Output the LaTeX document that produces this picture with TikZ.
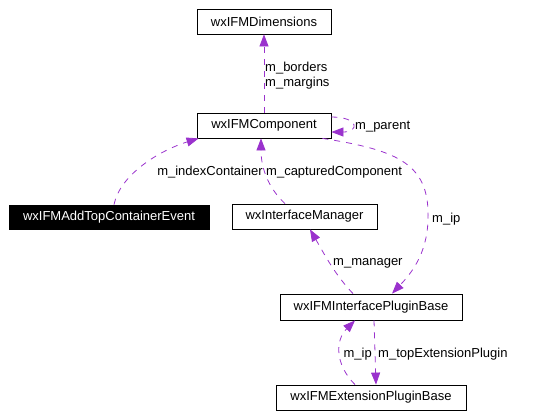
\documentclass[tikz,border=0pt]{standalone}
\usepackage{fontspec}
\setmainfont{Liberation Sans}
\usetikzlibrary{arrows.meta, positioning}
\definecolor{usageEdge}{RGB}{154,50,205}
\tikzset{%
  >={Triangle[width=9bp,length=12bp]},
  % Specifications for style of nodes:
    base/.style = {rectangle, draw=black, line width=0.8bp, inner sep=0pt, minimum height=25bp,
                   text centered, font=\fontsize{13bp}{15bp}\selectfont},
    classBox/.style = {base, fill=white},
    focusClass/.style = {base, fill=black, text=white},
    memberLabel/.style = {inner sep=0pt, font=\fontsize{13bp}{15bp}\selectfont, align=left},
    usage/.style = {->, draw=usageEdge, line width=0.8bp, dash pattern=on 6bp off 6bp},
}
\begin{document}
\begin{tikzpicture}[x=1bp, y=-1bp]
  \useasboundingbox (0,0) rectangle (542,418);
  \node (dimensions)    [classBox, minimum width=134bp] at (264,21.5) {wxIFMDimensions};
  \node (component)     [classBox, minimum width=134bp] at (264,125.5) {wxIFMComponent};
  \node (addTopEvent)   [focusClass, minimum width=200bp, minimum height=24bp] at (109,217)
                                                                {wxIFMAddTopContainerEvent};
  \node (ifManager)     [classBox, minimum width=145bp] at (304.5,216.5) {wxInterfaceManager};
  \node (pluginBase)    [classBox, minimum width=182bp, minimum height=26bp] at (371,307)
                                                                {wxIFMInterfacePluginBase};
  \node (extPluginBase) [classBox, minimum width=190bp] at (371,397.5)
                                                                {wxIFMExtensionPluginBase};

  \coordinate (ipBend) at (428,220);

  % Specification of lines between nodes
  \draw[usage]   (component) -- (dimensions);
  \draw[usage]   ([yshift=8.5bp]component.east) .. controls +(28,0) and +(28,0)
                                   .. ([yshift=-6.5bp]component.east);
  \draw[usage]   ([xshift=5bp]addTopEvent.north) .. controls +(6,-30) and +(-39,12)
                                   .. ([xshift=2bp]component.south west);
  \draw[usage]   ([xshift=-19.5bp]ifManager.north) .. controls +(-15,-14) and +(0,32)
                                   .. ([xshift=-3bp]component.south);
  \draw[usage]   ([xshift=-9bp]component.south east) .. controls +(78,12) and +(2,-55)
                                   .. (ipBend) .. controls +(-1,35) and +(18,-19)
                                   .. ([xshift=21bp]pluginBase.north);
  \draw[usage]   ([xshift=-18bp]pluginBase.north) .. controls +(-18,-19) and +(15,26)
                                   .. ([xshift=5.5bp]ifManager.south);
  \draw[usage]   ([xshift=-16bp]extPluginBase.north) .. controls +(-20,-20) and +(-20,20)
                                   .. ([xshift=-16bp]pluginBase.south);
  \draw[usage]   ([xshift=3bp]pluginBase.south) -- ([xshift=5bp]extPluginBase.north);

  % Member labels
  \node (lblBorders)  [memberLabel, anchor=west] at (265,75.5) {m\_borders\\m\_margins};
  \node (lblParent)   [memberLabel, anchor=west] at (355,127) {m\_parent};
  \node (lblIndex)    [memberLabel, anchor=east] at (263,172) {m\_indexContainer};
  \node (lblCaptured) [memberLabel, anchor=west] at (266,172) {m\_capturedComponent};
  \node (lblIp)       [memberLabel, anchor=west] at (432,219) {m\_ip};
  \node (lblManager)  [memberLabel, anchor=west] at (333,263) {m\_manager};
  \node (lblIpLower)  [memberLabel, anchor=east] at (372,354) {m\_ip};
  \node (lblTopExt)   [memberLabel, anchor=west] at (378,354) {m\_topExtensionPlugin};
\end{tikzpicture}
\end{document}
